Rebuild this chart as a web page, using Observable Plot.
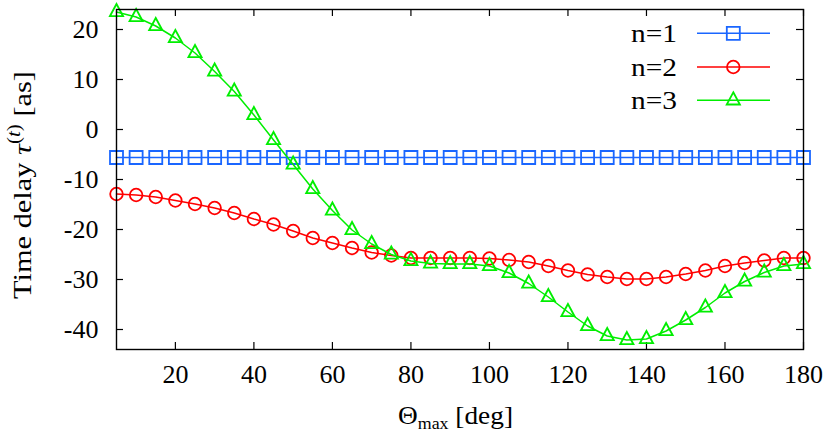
<!DOCTYPE html>
<html>
<head>
<meta charset="utf-8">
<script src="https://cdn.jsdelivr.net/npm/d3@7"></script>
<script src="https://cdn.jsdelivr.net/npm/@observablehq/plot@0.6"></script>
<style>
  html, body { margin: 0; padding: 0; background: #fff; }
  #chart svg { display: block; }
  #chart svg text { font-family: 'Liberation Serif', 'Times New Roman', serif; }
</style>
</head>
<body>
<div id="chart"></div>
<script>
// ---- data ----
const theta = [5,10,15,20,25,30,35,40,45,50,55,60,65,70,75,80,85,90,95,100,105,110,115,120,125,130,135,140,145,150,155,160,165,170,175,180];
const tauN1 = [-5.6,-5.6,-5.6,-5.6,-5.6,-5.6,-5.6,-5.6,-5.6,-5.6,-5.6,-5.6,-5.6,-5.6,-5.6,-5.6,-5.6,-5.6,-5.6,-5.6,-5.6,-5.6,-5.6,-5.6,-5.6,-5.6,-5.6,-5.6,-5.6,-5.6,-5.6,-5.6,-5.6,-5.6,-5.6,-5.6];
const tauN2 = [-12.9,-13.1,-13.5,-14.2,-14.9,-15.7,-16.7,-17.9,-19.0,-20.3,-21.7,-22.7,-23.7,-24.6,-25.2,-25.7,-25.7,-25.7,-25.7,-25.8,-26.1,-26.5,-27.3,-28.2,-29.0,-29.5,-29.9,-29.9,-29.5,-28.9,-28.2,-27.3,-26.7,-26.2,-25.7,-25.7];
const tauN3 = [23.5,22.5,20.7,18.3,15.3,11.6,7.6,2.9,-2.1,-7.0,-11.9,-16.2,-20.1,-22.9,-25.0,-26.3,-26.8,-26.9,-26.9,-27.3,-28.7,-30.8,-33.5,-36.5,-39.3,-41.3,-42.1,-41.9,-40.3,-38.1,-35.6,-32.7,-30.4,-28.6,-27.3,-26.9];
const seriesNames = ["n=1", "n=2", "n=3"];
const seriesColors = ["#1a66ff", "#ff0000", "#00ee00"];
const xTicks = [20,40,60,80,100,120,140,160,180];
const yTicks = [-40,-30,-20,-10,0,10,20];

// ---- layout ----
const W = 830, H = 434;
const mL = 116, mR = 27, mT = 9, mB = 85;
const FW = W - mL - mR, FH = H - mT - mB;
const TICK = 7;
const FONT = "'Liberation Serif', 'Times New Roman', serif";

// ---- symbols (gnuplot-like) ----
const squareSym = {draw(ctx) { ctx.moveTo(-6.5,-6.5); ctx.lineTo(6.5,-6.5); ctx.lineTo(6.5,6.5); ctx.lineTo(-6.5,6.5); ctx.closePath(); }};
const circleSym = {draw(ctx) { ctx.moveTo(6.3,0); ctx.arc(0,0,6.3,0,2*Math.PI); ctx.closePath(); }};
const triSym = {draw(ctx) { ctx.moveTo(0,-8); ctx.lineTo(6.6,4.2); ctx.lineTo(-6.6,4.2); ctx.closePath(); }};
const symbols = [squareSym, circleSym, triSym];

const seriesValues = [tauN1, tauN2, tauN3];
const tables = seriesValues.map((vals, s) => theta.map((t, i) => ({theta: t, tau: vals[i], series: seriesNames[s]})));

const fmt = d => d < 0 ? "-" + Math.abs(d) : String(d);

const seriesMarks = tables.flatMap((tbl, s) => [
  Plot.line(tbl, {x: "theta", y: "tau", stroke: seriesColors[s], strokeWidth: 1.5}),
  Plot.dot(tbl, {x: "theta", y: "tau", symbol: symbols[s], stroke: seriesColors[s], fill: "none", strokeWidth: 1.8})
]);

const svg = Plot.plot({
  width: W, height: H,
  marginLeft: mL, marginRight: mR, marginTop: mT, marginBottom: mB,
  x: {domain: [5, 180]},
  y: {domain: [-44, 24]},
  style: {fontFamily: FONT, fontSize: "26px", background: "white", color: "black"},
  marks: [
    Plot.ruleX(xTicks, {x: d => d, insetTop: FH - TICK, stroke: "black", strokeWidth: 1.2}),
    Plot.ruleX(xTicks, {x: d => d, insetBottom: FH - TICK, stroke: "black", strokeWidth: 1.2}),
    Plot.ruleY(yTicks, {y: d => d, insetRight: FW - TICK, stroke: "black", strokeWidth: 1.2}),
    Plot.ruleY(yTicks, {y: d => d, insetLeft: FW - TICK, stroke: "black", strokeWidth: 1.2}),
    Plot.axisX(xTicks, {anchor: "bottom", tickSize: 0, tickPadding: 15, label: null, fontSize: 26, tickFormat: fmt}),
    Plot.axisY(yTicks, {anchor: "left", tickSize: 0, tickPadding: 18, label: null, fontSize: 26, tickFormat: fmt}),
    ...seriesMarks,
    Plot.frame({stroke: "black", strokeWidth: 1.4})
  ]
});

const root = d3.select(svg);

// ---- axis titles ----
const yt = root.append("text")
  .attr("transform", "translate(31,185) rotate(-90)")
  .attr("text-anchor", "middle")
  .attr("font-family", FONT).attr("font-size", 26).attr("fill", "black")
  .attr("textLength", 228).attr("lengthAdjust", "spacingAndGlyphs");
yt.append("tspan").text("Time delay ");
yt.append("tspan").attr("font-style", "italic").text("τ");
yt.append("tspan").attr("font-size", 18).attr("dy", -11).text("(");
yt.append("tspan").attr("font-size", 18).attr("font-style", "italic").text("t");
yt.append("tspan").attr("font-size", 18).text(")");
yt.append("tspan").attr("dy", 11).text(" [as]");

const xt = root.append("text")
  .attr("x", 455.5).attr("y", 424)
  .attr("text-anchor", "middle")
  .attr("font-family", FONT).attr("font-size", 26).attr("fill", "black")
  .attr("textLength", 115).attr("lengthAdjust", "spacingAndGlyphs");
xt.append("tspan").text("Θ");
xt.append("tspan").attr("font-size", 17).attr("dy", 5).text("max");
xt.append("tspan").attr("dy", -5).text(" [deg]");

// ---- legend ----
const legendY = [33.3, 67, 100.3];
seriesNames.forEach((name, s) => {
  const y = legendY[s];
  root.append("text")
    .attr("x", 677).attr("y", y + 8.5)
    .attr("text-anchor", "end")
    .attr("font-family", FONT).attr("font-size", 26).attr("fill", "black")
    .attr("textLength", 46).attr("lengthAdjust", "spacingAndGlyphs")
    .text(name);
  root.append("line")
    .attr("x1", 697).attr("x2", 770).attr("y1", y).attr("y2", y)
    .attr("stroke", seriesColors[s]).attr("stroke-width", 1.5);
  const p = d3.path(); symbols[s].draw(p, 0);
  root.append("path")
    .attr("d", p.toString())
    .attr("transform", `translate(733.3,${y})`)
    .attr("fill", "none").attr("stroke", seriesColors[s]).attr("stroke-width", 1.8);
});

document.getElementById("chart").appendChild(svg);
</script>
</body>
</html>
